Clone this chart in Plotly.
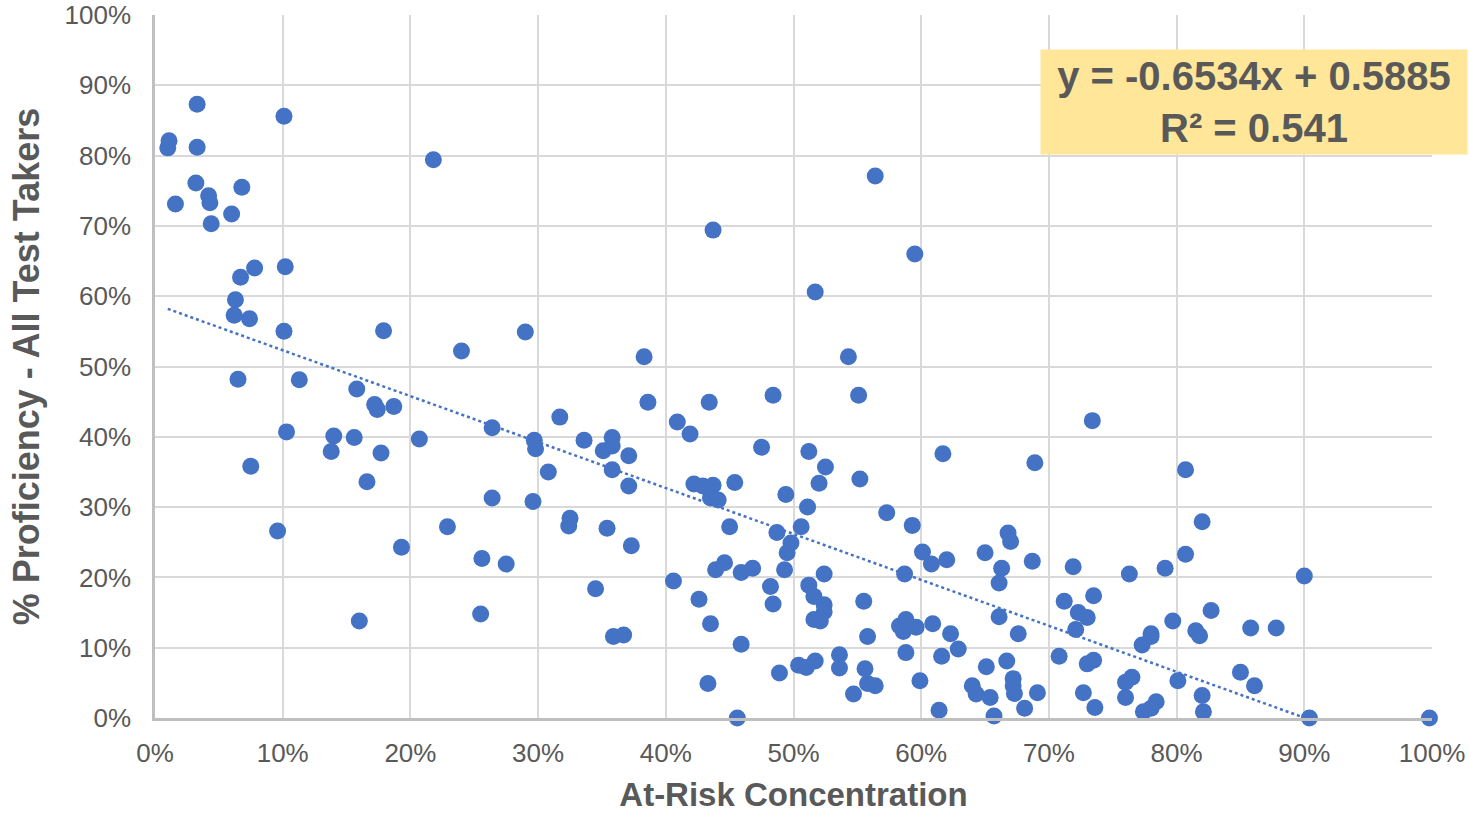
import plotly.graph_objects as go

# At-Risk Concentration (%) and % Proficiency (%)
at_risk = [
    1.0, 1.1, 3.3, 3.3, 1.6, 3.2, 4.2, 4.3, 4.4, 6.8, 6.0, 6.7, 7.8, 6.3, 6.2, 7.4, 6.5, 7.5, 10.1, 10.2, 10.1, 10.3, 9.6, 11.3,
    21.8, 17.9, 24.0, 15.8, 17.2, 17.4, 18.7, 14.0, 15.6, 20.7, 13.8, 17.7, 16.6, 22.9, 19.3, 16.0,
    29.0, 38.3, 38.6, 31.7, 26.4, 29.7, 29.8, 33.6, 35.8, 35.1, 35.8, 37.1, 30.8, 35.8, 37.1, 26.4, 29.6, 32.5, 32.4, 35.4, 37.3, 25.6, 27.5, 34.5, 25.5, 35.9, 36.7,
    43.7, 43.4, 48.4, 40.9, 41.9, 47.5, 42.2, 42.9, 43.7, 43.5, 44.1, 45.4, 49.4, 45.0, 48.7, 49.8, 49.5, 44.6, 43.9, 45.9, 46.8, 49.3, 40.6, 48.2, 48.4, 42.6, 43.5, 45.9, 48.9, 43.3, 45.6,
    56.4, 59.5, 51.7, 54.3, 55.1, 73.4, 51.2, 61.7, 68.9, 52.5, 52.0, 55.2, 51.1, 57.3, 59.3, 50.6, 66.8, 67.0, 65.0, 60.1, 60.8, 62.0, 68.7, 71.9, 66.3, 66.1, 58.7, 52.4, 51.2, 51.6, 52.4, 52.4, 55.5, 51.6, 52.1,
    71.2, 73.5, 72.3, 73.0, 72.1, 66.1, 67.6, 55.8, 58.3, 58.8, 58.6, 59.6, 60.9, 62.3, 62.9, 58.8, 61.6, 65.1, 66.7, 70.8, 73.0, 73.5, 53.6, 53.6, 55.6, 50.4, 51.0, 51.7,
    55.8, 56.4, 54.7, 59.9, 64.0, 64.3, 65.4, 67.2, 67.2, 67.3, 69.1, 68.1, 65.7, 61.4, 72.7, 73.6,
    80.7, 82.0, 80.7, 76.3, 79.1, 90.0, 82.7, 79.7, 81.5, 81.8, 78.0, 78.0, 77.3, 85.8, 87.8, 85.0, 86.1, 80.1, 76.5, 76.0, 76.0, 78.4, 78.0, 77.4, 82.0, 82.1, 90.4, 99.8,
]
proficiency = [
    81.1, 82.1, 87.3, 81.2, 73.1, 76.1, 74.3, 73.3, 70.3, 75.5, 71.7, 62.7, 64.0, 59.5, 57.3, 56.8, 48.2, 35.8, 85.6, 64.2, 55.0, 40.7, 26.6, 48.1,
    79.4, 55.1, 52.2, 46.8, 44.6, 43.9, 44.3, 40.1, 39.9, 39.7, 37.9, 37.7, 33.6, 27.2, 24.3, 13.8,
    54.9, 51.4, 44.9, 42.8, 41.3, 39.5, 38.3, 39.5, 39.9, 38.0, 38.7, 37.3, 35.0, 35.3, 33.0, 31.3, 30.8, 28.4, 27.3, 27.0, 24.5, 22.7, 21.9, 18.4, 14.8, 11.6, 11.8,
    69.4, 44.9, 45.9, 42.1, 40.4, 38.5, 33.3, 33.0, 33.1, 31.3, 31.0, 33.5, 31.8, 27.2, 26.4, 24.9, 23.5, 22.1, 21.1, 20.7, 21.3, 21.1, 19.5, 18.7, 16.2, 16.9, 13.4, 10.5, 6.4, 4.9, 0.0,
    77.1, 66.0, 60.6, 51.4, 45.9, 42.3, 37.9, 37.6, 36.3, 35.7, 33.4, 34.0, 30.0, 29.2, 27.4, 27.2, 26.3, 25.1, 23.5, 23.6, 21.9, 22.5, 22.3, 21.5, 21.3, 19.2, 20.5, 20.5, 18.9, 17.3, 16.1, 15.1, 16.6, 14.0, 13.8,
    16.6, 17.4, 15.0, 14.3, 12.6, 14.4, 12.0, 11.6, 13.1, 14.0, 12.3, 12.9, 13.4, 12.0, 9.8, 9.3, 8.8, 7.3, 8.1, 8.8, 7.7, 8.2, 9.0, 7.1, 7.0, 7.5, 7.2, 8.1,
    4.9, 4.6, 3.4, 5.3, 4.6, 3.4, 2.9, 5.6, 4.6, 3.5, 3.6, 1.4, 0.3, 1.1, 3.6, 1.5,
    35.3, 27.9, 23.3, 20.5, 21.3, 20.2, 15.3, 13.8, 12.4, 11.7, 12.0, 11.6, 10.4, 12.8, 12.8, 6.5, 4.6, 5.3, 5.8, 5.1, 2.9, 2.3, 1.4, 0.9, 3.2, 0.9, 0.0, 0.0,
]
trend_slope = -0.6534
trend_intercept = 0.5885
trend_r2 = 0.541
tick_vals = [0, 0.1, 0.2, 0.3, 0.4, 0.5, 0.6, 0.7, 0.8, 0.9, 1.0]
tick_text = ["0%", "10%", "20%", "30%", "40%", "50%", "60%", "70%", "80%", "90%", "100%"]

xs = [v / 100 for v in at_risk]
ys = [v / 100 for v in proficiency]

x0 = min(xs)
x1 = -trend_intercept / trend_slope
trend_x = [x0, x1]
trend_y = [trend_slope * x + trend_intercept for x in trend_x]

fig = go.Figure()
fig.add_trace(go.Scatter(
    x=trend_x, y=trend_y, mode="lines",
    line=dict(color="#4472C4", width=2.5, dash="dot"),
    hoverinfo="skip", showlegend=False,
))
fig.add_trace(go.Scatter(
    x=xs, y=ys, mode="markers",
    marker=dict(color="#4472C4", size=17, line=dict(width=0)),
    cliponaxis=False, showlegend=False,
))

fig.add_annotation(
    xref="paper", yref="paper", x=0.8606, y=0.876,
    xanchor="center", yanchor="middle",
    text=f"y = {trend_slope}x + {trend_intercept}<br>R² = {trend_r2}",
    showarrow=False, align="center",
    font=dict(family="Liberation Sans, Arial, sans-serif", size=40, color="#595959", weight="bold"),
    bgcolor="#FFE699", width=426, height=104, borderpad=0,
)

axis_font = dict(family="Liberation Sans, Arial, sans-serif", size=26, color="#595959")
fig.update_layout(
    width=1469, height=813,
    margin=dict(l=155, r=37, t=15, b=95),
    paper_bgcolor="white", plot_bgcolor="white",
    xaxis=dict(
        range=[0, 1], tickvals=tick_vals, ticktext=tick_text, automargin=False,
        showgrid=True, gridcolor="#D9D9D9", gridwidth=2,
        showline=True, linecolor="#BFBFBF", linewidth=2.5,
        ticks="outside", ticklen=10, tickcolor="rgba(0,0,0,0)",
        tickfont=axis_font, zeroline=False,
        title=dict(text="<b>At-Risk Concentration</b>", standoff=25,
                   font=dict(family="Liberation Sans, Arial, sans-serif", size=33, color="#595959")),
    ),
    yaxis=dict(
        range=[0, 1], tickvals=tick_vals, ticktext=tick_text, automargin=False,
        showgrid=True, gridcolor="#D9D9D9", gridwidth=2,
        showline=True, linecolor="#BFBFBF", linewidth=2.5,
        ticks="outside", ticklen=16, tickcolor="rgba(0,0,0,0)",
        tickfont=axis_font, zeroline=False,
        title=dict(text="<b>% Proficiency - All Test Takers</b>", standoff=14,
                   font=dict(family="Liberation Sans Narrow, Liberation Sans, Arial, sans-serif", size=36, color="#595959")),
    ),
)

fig.write_html(
    "out.html",
    config={"displayModeBar": False},
    post_script="document.body.style.margin='0';document.body.style.overflow='hidden';",
)
